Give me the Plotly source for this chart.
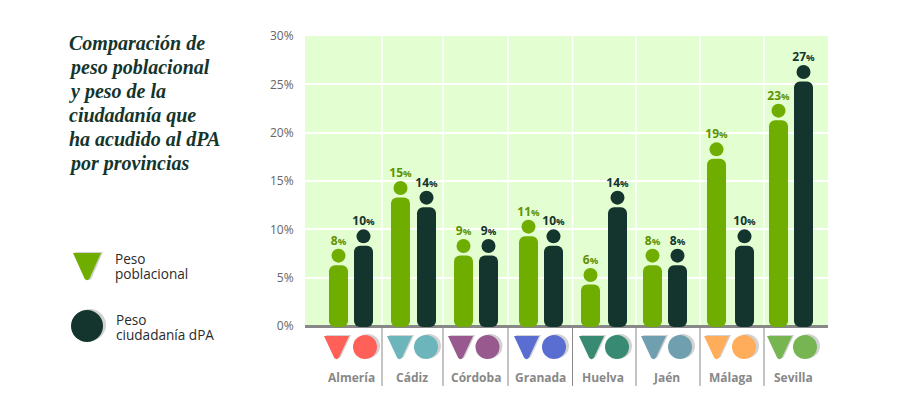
import plotly.graph_objects as go

provinces = ["Almería", "Cádiz", "Córdoba", "Granada", "Huelva", "Jaén", "Málaga", "Sevilla"]
peso_poblacional = [8, 15, 9, 11, 6, 8, 19, 23]
peso_ciudadania = [10, 14, 9, 10, 14, 8, 10, 27]
province_colors = ["#ff6058", "#6cb5bb", "#985a8e", "#5a6ed2", "#388b72", "#709fb0", "#ffad5a", "#76b552"]

# layout geometry, in page pixels (the page body adds an 8px margin round the figure)
PAGE = 8
W, H = 892, 388
PL, PR, PT, PB = 305, 828, 36, 328
green_x = [338.5, 400.5, 463.5, 528.5, 590.5, 652.5, 716.5, 778.5]
dark_x = [363.5, 426.5, 488.5, 553.5, 617.5, 677.5, 744.5, 803.5]
separators = [382, 443, 508, 572.5, 636, 700, 764]
label_x = [351, 412, 476, 540, 603, 666, 731, 793]
tri_x = [324, 387, 448, 514, 579, 641, 704, 767]
circ_x = [365, 426, 487.5, 554, 617, 680, 744, 805]
title_lines = ["Comparación de", "peso poblacional", "y peso de la", "ciudadanía que", "ha acudido al dPA", "por provincias"]

GREEN, DARK = "#6fae00", "#14352d"
GREEN_TEXT = "#5f9200"
BG = "#e3fed1"
PX = 290 / 30  # pixels for one percentage point
BODY_GAP = 16.5 / PX
HEAD_R = 7
Y_MIN = -(PB - 326) / PX


def X(p):
    return (p - PAGE) / W


def Y(p):
    return 1 - (p - PAGE) / H


fig = go.Figure()


def person(xs, values, color, text_color, name):
    fig.add_trace(go.Bar(x=xs, y=[v - BODY_GAP - Y_MIN / 2 for v in values], base=Y_MIN / 2, width=19, name=name,
                         marker_color=color, marker_line_width=0, marker_cornerradius=6, hoverinfo="skip"))
    fig.add_trace(go.Scatter(x=xs, y=[v - HEAD_R / PX for v in values], mode="markers",
                             marker=dict(size=HEAD_R * 2, color=color), name=name, cliponaxis=False))
    fig.add_trace(go.Scatter(x=xs, y=[v + 1 / PX for v in values], mode="text",
                             text=[f'<b>{v}</b><span style="font-size:9.5px"><b>%</b></span>' for v in values],
                             textposition="top center", textfont=dict(family="Open Sans", size=12, color=text_color),
                             cliponaxis=False, hoverinfo="skip"))


person(green_x, peso_poblacional, GREEN, GREEN_TEXT, "Peso poblacional")
person(dark_x, peso_ciudadania, DARK, DARK, "Peso ciudadanía dPA")


def triangle(x0, y0, w, h):
    x1, xm, y1 = x0 + w, x0 + w / 2, y0 + h
    return (f"M{X(x0)},{Y(y0)} L{X(x1)},{Y(y0)} L{X(xm + 2.5)},{Y(y1 - 2.5)} "
            f"Q{X(xm)},{Y(y1 + 1)} {X(xm - 2.5)},{Y(y1 - 2.5)} Z")


px = dict(xref="paper", yref="paper", layer="above", line_width=0)


def circle(x0, x1, y0, y1, c):
    return dict(type="circle", x0=X(x0), x1=X(x1), y0=Y(y1), y1=Y(y0), fillcolor=c, **px)


shapes = []
for s in separators:
    shapes.append(dict(type="line", xref="paper", yref="paper", x0=X(s), x1=X(s), y0=Y(326), y1=Y(PT),
                       line=dict(color="white", width=1.5), layer="below"))
    shapes.append(dict(type="line", xref="paper", yref="paper", x0=X(s), x1=X(s), y0=Y(386), y1=Y(328),
                       line=dict(color="#8a8a8a", width=1), layer="above"))
for tx, cx, c in zip(tri_x, circ_x, province_colors):
    shapes.append(dict(type="path", path=triangle(tx + 2, 335, 25, 24), fillcolor="#d2d2d2", **px))
    shapes.append(dict(type="path", path=triangle(tx, 336, 25, 24), fillcolor=c, **px))
    shapes.append(circle(cx - 9, cx + 15, 334, 358, "#d2d2d2"))
    shapes.append(circle(cx - 12, cx + 12, 335, 359, c))
# legend glyphs
shapes.append(dict(type="path", path=triangle(75, 252, 28, 29), fillcolor="#d2d2d2", **px))
shapes.append(dict(type="path", path=triangle(73, 253, 28, 28), fillcolor=GREEN, **px))
shapes.append(circle(74, 106, 309, 341, "#d2d2d2"))
shapes.append(circle(71, 103, 310, 342, DARK))

ann = []
for i, line in enumerate(title_lines):
    ann.append(dict(x=X(67), y=Y(43 + i * 24.1), text=f"<b><i>{line}</i></b>", xanchor="left", yanchor="middle",
                    font=dict(family="Liberation Serif", size=20, color=DARK)))
for x, y, t in [(113, 258, "Peso"), (113, 273, "poblacional"), (114, 319, "Peso"), (114, 334, "ciudadanía dPA")]:
    ann.append(dict(x=X(x), y=Y(y), text=t, xanchor="left", yanchor="middle",
                    font=dict(family="Open Sans", size=13.6, color="#2a2a2a")))
for x, t in zip(label_x, provinces):
    ann.append(dict(x=X(x), y=Y(377), text=f"<b>{t}</b>", xanchor="center", yanchor="middle",
                    font=dict(family="Open Sans", size=12, color="#888888")))
for a in ann:
    a.update(xref="paper", yref="paper", showarrow=False, xshift=0, yshift=0)

fig.update_layout(
    width=W, height=H, margin=dict(l=0, r=0, t=0, b=0, pad=0, autoexpand=False),
    paper_bgcolor="white", plot_bgcolor=BG, barmode="overlay", showlegend=False,
    font=dict(family="Open Sans"), shapes=shapes, annotations=ann,
    xaxis=dict(domain=[X(PL), X(PR)], range=[PL, PR], showgrid=False, showticklabels=False,
               zeroline=False, ticks="", fixedrange=True),
    yaxis=dict(domain=[Y(PB), Y(PT)], range=[Y_MIN, 30], tickvals=[0, 5, 10, 15, 20, 25, 30],
               ticktext=[f"{v}%" for v in [0, 5, 10, 15, 20, 25, 30]],
               tickfont=dict(family="Open Sans", size=12, color="#666666"),
               gridcolor="white", gridwidth=1.5, zeroline=True, zerolinecolor="#888888", zerolinewidth=3,
               ticks="outside", ticklen=8, tickcolor="rgba(0,0,0,0)", showline=False, fixedrange=True,
               automargin=False),
)
fig.write_html("out.html", config={"displayModeBar": False})
